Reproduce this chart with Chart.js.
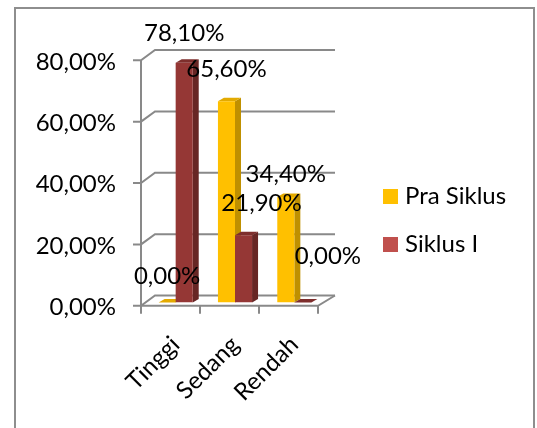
<!DOCTYPE html>
<html lang="id">
<head>
  <meta charset="UTF-8">
  <title>Pra Siklus dan Siklus I</title>
  <script src="https://cdn.jsdelivr.net/npm/chart.js"></script>
  <style>
    * { margin: 0; padding: 0; box-sizing: border-box; }
    body { background: #fff; width: 537px; height: 428px; overflow: hidden; }
    canvas { display: block; }
  </style>
</head>
<body>
  <canvas id="chart" width="537" height="428"></canvas>

  <script>
    // data
    const categories = ['Tinggi', 'Sedang', 'Rendah'];
    const seriesNames = ['Pra Siklus', 'Siklus I'];
    const praSiklus = [0, 65.6, 34.4];
    const siklusI = [78.1, 21.9, 0];
    const yTicks = [0, 20, 40, 60, 80];

    // looks
    const FONT = "Lato, 'Open Sans', sans-serif";
    const FONT_SIZE = 24;
    const frontColors = ['#FFC000', '#953735'];
    const sideColors = ['#BF9000', '#672624'];
    const topColors = ['#E3AA00', '#7E2E2C'];
    const legendColors = ['#FFC000', '#C0504D'];
    const DX = 6, DY = -3.5;   // bar depth
    // where Excel put each data label, relative to the bar top centre
    const labelNudge = [
      [[0, -26], [0, -32], [0, -23]],
      [[0, -30], [18, -32], [25, -46]]
    ];

    const fmt = v => v.toFixed(2).replace('.', ',') + '%';

    const threeD = {
      id: 'threeD',
      beforeDraw(chart) {
        // outer chart frame
        const ctx = chart.ctx;
        ctx.save();
        ctx.strokeStyle = '#8e8e8e';
        ctx.lineWidth = 2;
        ctx.beginPath();
        ctx.moveTo(15, 440);
        ctx.lineTo(15, 8);
        ctx.lineTo(534, 8);
        ctx.lineTo(534, 440);
        ctx.stroke();
        ctx.restore();
      },
      beforeDatasetsDraw(chart) {
        const { ctx, chartArea: a, scales: { y } } = chart;
        const fL = a.left - 5, fR = a.right - 6, bL = a.left + 9, bR = a.right + 11;
        const p0 = y.getPixelForValue(0);
        const pMax = y.getPixelForValue(y.max);
        ctx.save();
        ctx.strokeStyle = '#898989';
        ctx.lineWidth = 2;

        // back wall gridlines with the little diagonal from the front axis
        y.ticks.forEach(t => {
          const p = y.getPixelForValue(t.value);
          ctx.beginPath();
          ctx.moveTo(fL - 8, p + 3.3);
          ctx.lineTo(fL, p + 3.3);
          ctx.lineTo(bL, p - 7);
          ctx.lineTo(bR, p - 7);
          ctx.stroke();
        });

        // front value axis
        ctx.beginPath();
        ctx.moveTo(fL, pMax + 3.3);
        ctx.lineTo(fL, p0 + 11.3);
        ctx.stroke();

        // floor: front edge + right edge
        ctx.beginPath();
        ctx.moveTo(fL, p0 + 3.3);
        ctx.lineTo(fR, p0 + 3.3);
        ctx.lineTo(bR, p0 - 7);
        ctx.stroke();

        // category tick marks
        for (let k = 1; k <= categories.length; k++) {
          const xx = fL + (fR - fL) * k / categories.length;
          ctx.beginPath();
          ctx.moveTo(xx, p0 + 3.3);
          ctx.lineTo(xx, p0 + 11.3);
          ctx.stroke();
        }

        // bar sides and tops (fronts are drawn by Chart.js on top)
        chart.data.datasets.forEach((ds, di) => {
          chart.getDatasetMeta(di).data.forEach(bar => {
            const { x, y: top, base, width } = bar.getProps(['x', 'y', 'base', 'width'], true);
            const l = x - width / 2, r = x + width / 2;
            ctx.fillStyle = sideColors[di];
            ctx.beginPath();
            ctx.moveTo(r, top);
            ctx.lineTo(r + DX, top + DY);
            ctx.lineTo(r + DX, base + DY);
            ctx.lineTo(r, base);
            ctx.closePath();
            ctx.fill();
            ctx.fillStyle = topColors[di];
            ctx.beginPath();
            ctx.moveTo(l, top);
            ctx.lineTo(l + DX, top + DY);
            ctx.lineTo(r + DX, top + DY);
            ctx.lineTo(r, top);
            ctx.closePath();
            ctx.fill();
          });
        });
        ctx.restore();
      },
      afterDatasetsDraw(chart) {
        const ctx = chart.ctx;
        ctx.save();
        ctx.font = FONT_SIZE + 'px ' + FONT;
        ctx.fillStyle = '#000';
        ctx.textAlign = 'center';
        ctx.textBaseline = 'middle';
        chart.data.datasets.forEach((ds, di) => {
          chart.getDatasetMeta(di).data.forEach((bar, i) => {
            const [nx, ny] = labelNudge[di][i];
            ctx.fillText(fmt(ds.data[i]), bar.x + nx, bar.y + ny);
          });
        });
        ctx.restore();
      },
      afterDraw(chart) {
        // legend on the right
        const ctx = chart.ctx;
        ctx.save();
        ctx.font = FONT_SIZE + 'px ' + FONT;
        ctx.textAlign = 'left';
        ctx.textBaseline = 'middle';
        seriesNames.forEach((name, i) => {
          const yy = 196 + i * 48;
          ctx.fillStyle = legendColors[i];
          ctx.fillRect(383, yy - 7, 15, 15);
          ctx.fillStyle = '#000';
          ctx.fillText(name, 405, yy);
        });
        ctx.restore();
      }
    };

    new Chart(document.getElementById('chart'), {
      type: 'bar',
      data: {
        labels: categories,
        datasets: [
          { label: seriesNames[0], data: praSiklus, backgroundColor: frontColors[0], borderWidth: 0,
            categoryPercentage: 0.575, barPercentage: 1 },
          { label: seriesNames[1], data: siklusI, backgroundColor: frontColors[1], borderWidth: 0,
            categoryPercentage: 0.575, barPercentage: 1 }
        ]
      },
      options: {
        responsive: false,
        animation: false,
        layout: { padding: { left: 0, top: 57, right: 213, bottom: 0 } },
        plugins: { legend: { display: false }, tooltip: { enabled: false } },
        scales: {
          x: {
            grid: { display: false, drawTicks: false },
            border: { display: false },
            ticks: { minRotation: 45, maxRotation: 45, padding: 28, color: '#000', font: { family: FONT, size: FONT_SIZE } },
            afterFit: s => { s.height = 125.5; }
          },
          y: {
            min: 0,
            max: 80,
            grid: { display: false, drawTicks: false },
            border: { display: false },
            afterBuildTicks: s => { s.ticks = yTicks.map(v => ({ value: v })); },
            ticks: { padding: 30, labelOffset: 5, color: '#000', font: { family: FONT, size: FONT_SIZE }, callback: v => fmt(v) },
            afterFit: s => { s.width = 146; }
          }
        }
      },
      plugins: [threeD]
    });
  </script>
</body>
</html>
